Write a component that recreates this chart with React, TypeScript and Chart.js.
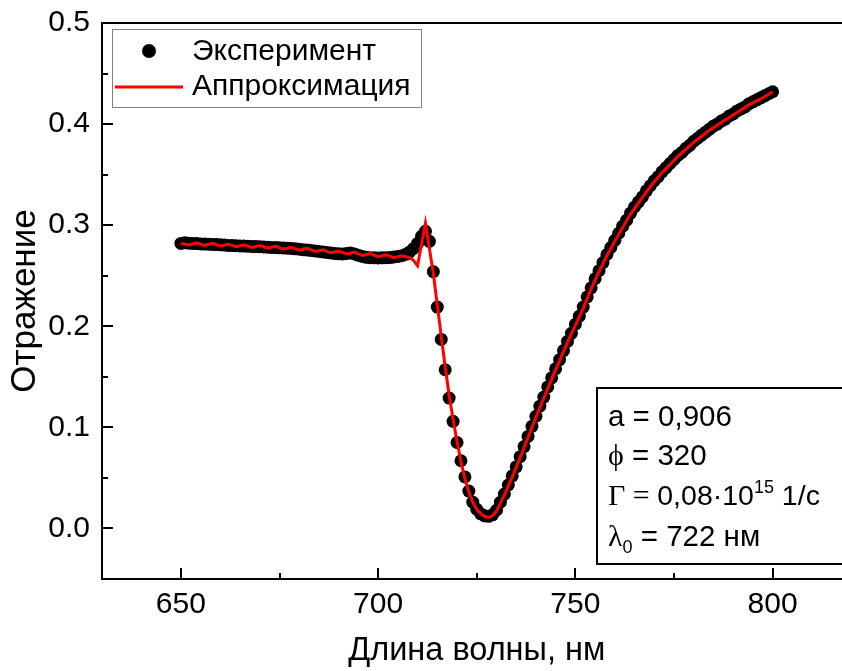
import React, { useEffect, useRef } from 'react';
import { Chart, registerables } from 'chart.js';

Chart.register(...registerables);

// ---------- data ----------
const expWavelength: number[] = [
  650, 651, 652, 653, 654, 655, 656, 657, 658, 659,
  660, 661, 662, 663, 664, 665, 666, 667, 668, 669,
  670, 671, 672, 673, 674, 675, 676, 677, 678, 679,
  680, 681, 682, 683, 684, 685, 686, 687, 688, 689,
  690, 691, 692, 693, 694, 695, 696, 697, 698, 699,
  700, 701, 702, 703, 704, 705, 706, 707, 708, 709,
  710, 711, 712, 713, 714, 715, 716, 717, 718, 719,
  720, 721, 722, 723, 724, 725, 726, 727, 728, 729,
  730, 731, 732, 733, 734, 735, 736, 737, 738, 739,
  740, 741, 742, 743, 744, 745, 746, 747, 748, 749,
  750, 751, 752, 753, 754, 755, 756, 757, 758, 759,
  760, 761, 762, 763, 764, 765, 766, 767, 768, 769,
  770, 771, 772, 773, 774, 775, 776, 777, 778, 779,
  780, 781, 782, 783, 784, 785, 786, 787, 788, 789,
  790, 791, 792, 793, 794, 795, 796, 797, 798, 799,
  800,
];

const expReflectance: number[] = [
  0.2820, 0.2825, 0.2822, 0.2820, 0.2818, 0.2815, 0.2813, 0.2812, 0.2810, 0.2808,
  0.2806, 0.2803, 0.2800, 0.2798, 0.2797, 0.2795, 0.2793, 0.2792, 0.2790, 0.2788,
  0.2787, 0.2785, 0.2782, 0.2780, 0.2778, 0.2776, 0.2774, 0.2772, 0.2770, 0.2766,
  0.2762, 0.2758, 0.2754, 0.2750, 0.2745, 0.2740, 0.2735, 0.2730, 0.2725, 0.2720,
  0.2717, 0.2716, 0.2720, 0.2724, 0.2716, 0.2702, 0.2690, 0.2682, 0.2678, 0.2677,
  0.2676, 0.2677, 0.2678, 0.2680, 0.2685, 0.2690, 0.2698, 0.2712, 0.2735, 0.2770,
  0.2820, 0.2890, 0.2940, 0.2840, 0.2540, 0.2190, 0.1870, 0.1570, 0.1290, 0.1060,
  0.0850, 0.0670, 0.0510, 0.0370, 0.0260, 0.0190, 0.0145, 0.0125, 0.0120, 0.0135,
  0.0180, 0.0260, 0.0340, 0.0430, 0.0520, 0.0610, 0.0710, 0.0810, 0.0910, 0.1010,
  0.1110, 0.1210, 0.1300, 0.1400, 0.1490, 0.1580, 0.1670, 0.1760, 0.1850, 0.1930,
  0.2020, 0.2100, 0.2190, 0.2290, 0.2380, 0.2470, 0.2550, 0.2630, 0.2710, 0.2780,
  0.2850, 0.2920, 0.2990, 0.3050, 0.3120, 0.3180, 0.3230, 0.3280, 0.3340, 0.3390,
  0.3440, 0.3480, 0.3530, 0.3570, 0.3610, 0.3650, 0.3690, 0.3720, 0.3760, 0.3790,
  0.3830, 0.3860, 0.3890, 0.3920, 0.3950, 0.3980, 0.4000, 0.4030, 0.4050, 0.4080,
  0.4100, 0.4130, 0.4150, 0.4170, 0.4200, 0.4220, 0.4240, 0.4260, 0.4280, 0.4300,
  0.4320,
];

const fitWavelength: number[] = [
  650, 652, 654, 656, 658, 660, 662, 664, 666, 668,
  670, 672, 674, 676, 678, 680, 682, 684, 686, 688,
  690, 692, 694, 696, 698, 700, 702, 704, 706, 708,
  709, 710, 712, 713, 714, 715, 716, 717, 718, 719,
  720, 721, 722, 723, 724, 725, 726, 727, 728, 729,
  730, 732, 734, 736, 738, 740, 742, 744, 746, 748,
  750, 752, 754, 756, 758, 760, 762, 764, 766, 768,
  770, 772, 774, 776, 778, 780, 782, 784, 786, 788,
  790, 792, 794, 796, 798, 800,
];

const fitReflectance: number[] = [
  0.2820, 0.2805, 0.2825, 0.2800, 0.2820, 0.2795, 0.2812, 0.2787, 0.2805, 0.2780,
  0.2798, 0.2772, 0.2790, 0.2763, 0.2780, 0.2752, 0.2770, 0.2740, 0.2757, 0.2727,
  0.2745, 0.2715, 0.2733, 0.2700, 0.2720, 0.2688, 0.2708, 0.2678, 0.2698, 0.2680,
  0.2650, 0.2600, 0.3020, 0.2770, 0.2520, 0.2210, 0.1900, 0.1600, 0.1320, 0.1080,
  0.0860, 0.0660, 0.0490, 0.0360, 0.0260, 0.0190, 0.0145, 0.0120, 0.0110, 0.0125,
  0.0170, 0.0330, 0.0510, 0.0700, 0.0900, 0.1100, 0.1290, 0.1480, 0.1660, 0.1840,
  0.2010, 0.2180, 0.2370, 0.2540, 0.2700, 0.2840, 0.2980, 0.3110, 0.3220, 0.3330,
  0.3430, 0.3520, 0.3600, 0.3680, 0.3750, 0.3820, 0.3880, 0.3940, 0.3990, 0.4040,
  0.4090, 0.4140, 0.4190, 0.4230, 0.4270, 0.4320,
];

const xMajorTicks: number[] = [650, 700, 750, 800];
const xMinorTicks: number[] = [675, 725, 775];
const yMajorTicks: number[] = [0.0, 0.1, 0.2, 0.3, 0.4, 0.5];
const yMinorTicks: number[] = [0.05, 0.15, 0.25, 0.35, 0.45];

const seriesLabels: string[] = ['Эксперимент', 'Аппроксимация'];
const xTitle = 'Длина волны, нм';
const yTitle = 'Отражение';

const paramA = 'a = 0,906';
const paramPhi = ' = 320';
const paramGamma = '0,08·10';
const paramGammaExp = '15';
const paramGammaUnit = ' 1/с';
const paramLambda = ' = 722 нм';

// ---------- styling ----------
const SANS = "'Liberation Sans', Arial, Helvetica, sans-serif";
const SERIF = "'Liberation Serif', 'Times New Roman', serif";

type Run = { text: string; font: string; dy?: number };

function drawRuns(ctx: CanvasRenderingContext2D, x: number, y: number, runs: Run[]) {
  let cx = x;
  for (const r of runs) {
    ctx.font = r.font;
    ctx.fillText(r.text, cx, y + (r.dy || 0));
    cx += ctx.measureText(r.text).width;
  }
}

const decorPlugin = {
  id: 'decor',
  afterDraw(chart: any) {
    const ctx: CanvasRenderingContext2D = chart.ctx;
    const { left, right, top, bottom } = chart.chartArea;
    const xs = chart.scales.x;
    const ys = chart.scales.y;
    ctx.save();

    // top frame line
    ctx.strokeStyle = '#000';
    ctx.lineWidth = 2;
    ctx.beginPath();
    ctx.moveTo(left - 1, top);
    ctx.lineTo(right, top);
    ctx.stroke();

    // inward ticks
    ctx.lineWidth = 2;
    ctx.beginPath();
    for (const v of xMajorTicks) {
      const p = Math.round(xs.getPixelForValue(v));
      ctx.moveTo(p, bottom);
      ctx.lineTo(p, bottom - 11);
    }
    for (const v of xMinorTicks) {
      const p = Math.round(xs.getPixelForValue(v));
      ctx.moveTo(p, bottom);
      ctx.lineTo(p, bottom - 6);
    }
    for (const v of yMajorTicks) {
      const p = Math.round(ys.getPixelForValue(v));
      ctx.moveTo(left, p);
      ctx.lineTo(left + 11, p);
    }
    for (const v of yMinorTicks) {
      const p = Math.round(ys.getPixelForValue(v));
      ctx.moveTo(left, p);
      ctx.lineTo(left + 6, p);
    }
    ctx.stroke();

    // legend
    const lx = left + 10;
    const ly = top + 6;
    ctx.fillStyle = '#fff';
    ctx.fillRect(lx, ly, 309, 78);
    ctx.strokeStyle = '#808080';
    ctx.lineWidth = 1;
    ctx.strokeRect(lx + 0.5, ly + 0.5, 309, 78);
    ctx.fillStyle = '#000';
    ctx.beginPath();
    ctx.arc(lx + 37, ly + 22, 7, 0, Math.PI * 2);
    ctx.fill();
    ctx.strokeStyle = '#ff0000';
    ctx.lineWidth = 3;
    ctx.beginPath();
    ctx.moveTo(lx + 3, ly + 58);
    ctx.lineTo(lx + 71, ly + 58);
    ctx.stroke();
    ctx.fillStyle = '#000';
    ctx.font = `30px ${SANS}`;
    ctx.textBaseline = 'middle';
    ctx.textAlign = 'left';
    const labels = chart.data.datasets.map((d: any) => d.label);
    ctx.fillText(labels[0], lx + 80, ly + 23);
    ctx.fillText(labels[1], lx + 80, ly + 58);

    // parameters box
    const bx = 597;
    const by = 388;
    ctx.fillStyle = '#fff';
    ctx.fillRect(bx, by, 300, 176);
    ctx.strokeStyle = '#000';
    ctx.lineWidth = 2;
    ctx.strokeRect(bx, by, 300, 176);
    ctx.fillStyle = '#000';
    ctx.textBaseline = 'alphabetic';
    const f = `29.5px ${SANS}`;
    const fs = `30px ${SERIF}`;
    const small = `18px ${SANS}`;
    const tx = bx + 11;
    drawRuns(ctx, tx, by + 38, [{ text: paramA, font: f }]);
    drawRuns(ctx, tx, by + 77, [{ text: '\u03D5', font: fs }, { text: paramPhi, font: f }]);
    drawRuns(ctx, tx, by + 117, [
      { text: 'Γ = ', font: fs },
      { text: paramGamma, font: `28.5px ${SANS}` },
      { text: paramGammaExp, font: small, dy: -12 },
      { text: paramGammaUnit, font: `28.5px ${SANS}` },
    ]);
    drawRuns(ctx, tx, by + 158, [
      { text: 'λ', font: fs },
      { text: '0', font: small, dy: 7 },
      { text: paramLambda, font: f },
    ]);

    ctx.restore();
  },
};

export default function App() {
  const canvasRef = useRef<HTMLCanvasElement | null>(null);

  useEffect(() => {
    document.body.style.margin = '0';
    const canvas = canvasRef.current;
    if (!canvas) return;

    const tickFont = { family: SANS, size: 30, lineHeight: 1.2 };

    const chart = new Chart(canvas, {
      type: 'scatter',
      data: {
        datasets: [
          {
            label: seriesLabels[0],
            data: expWavelength.map((x, i) => ({ x, y: expReflectance[i] })),
            showLine: false,
            pointRadius: 6.5,
            pointHoverRadius: 6.5,
            pointBackgroundColor: '#000',
            pointBorderWidth: 0,
            borderColor: '#000',
            order: 1,
          },
          {
            label: seriesLabels[1],
            data: fitWavelength.map((x, i) => ({ x, y: fitReflectance[i] })),
            showLine: true,
            borderColor: '#ff0000',
            borderWidth: 3,
            pointRadius: 0,
            tension: 0,
            order: 0,
          },
        ],
      },
      options: {
        responsive: false,
        animation: false,
        layout: { padding: { top: 23, left: 0, right: 0, bottom: 0 } },
        plugins: {
          legend: { display: false },
          tooltip: { enabled: false },
        },
        scales: {
          x: {
            type: 'linear',
            min: 630,
            max: 820,
            grid: { display: false, drawTicks: false },
            border: { display: true, color: '#000', width: 2 },
            afterBuildTicks: (s: any) => {
              s.ticks = xMajorTicks.map((v) => ({ value: v }));
            },
            afterFit: (s: any) => {
              s.height = 92;
              s.paddingLeft = 0;
              s.paddingRight = 0;
            },
            ticks: {
              color: '#000',
              font: tickFont,
              padding: 8,
              maxRotation: 0,
              autoSkip: false,
              callback: (v: any) => String(v),
            },
            title: {
              display: true,
              text: xTitle,
              color: '#000',
              font: { family: SANS, size: 32.5, lineHeight: 1.2 },
              padding: { top: 0, bottom: 0 },
            },
          },
          y: {
            type: 'linear',
            min: -0.05,
            max: 0.5,
            grid: { display: false, drawTicks: false },
            border: { display: true, color: '#000', width: 2 },
            afterBuildTicks: (s: any) => {
              s.ticks = yMajorTicks.map((v) => ({ value: v }));
            },
            afterFit: (s: any) => {
              s.width = 102;
              s.paddingTop = 0;
              s.paddingBottom = 0;
            },
            ticks: {
              color: '#000',
              font: tickFont,
              padding: 12,
              autoSkip: false,
              callback: (v: any) => Number(v).toFixed(1),
            },
            title: {
              display: true,
              text: yTitle,
              color: '#000',
              font: { family: SANS, size: 35, lineHeight: 1.2 },
              padding: { top: 4, bottom: 0 },
            },
          },
        },
      } as any,
      plugins: [decorPlugin],
    });

    return () => chart.destroy();
  }, []);

  return (
    <div style={{ width: 842, height: 671, overflow: 'hidden', position: 'relative', background: '#fff' }}>
      <canvas ref={canvasRef} width={858} height={671} style={{ display: 'block' }} />
    </div>
  );
}
